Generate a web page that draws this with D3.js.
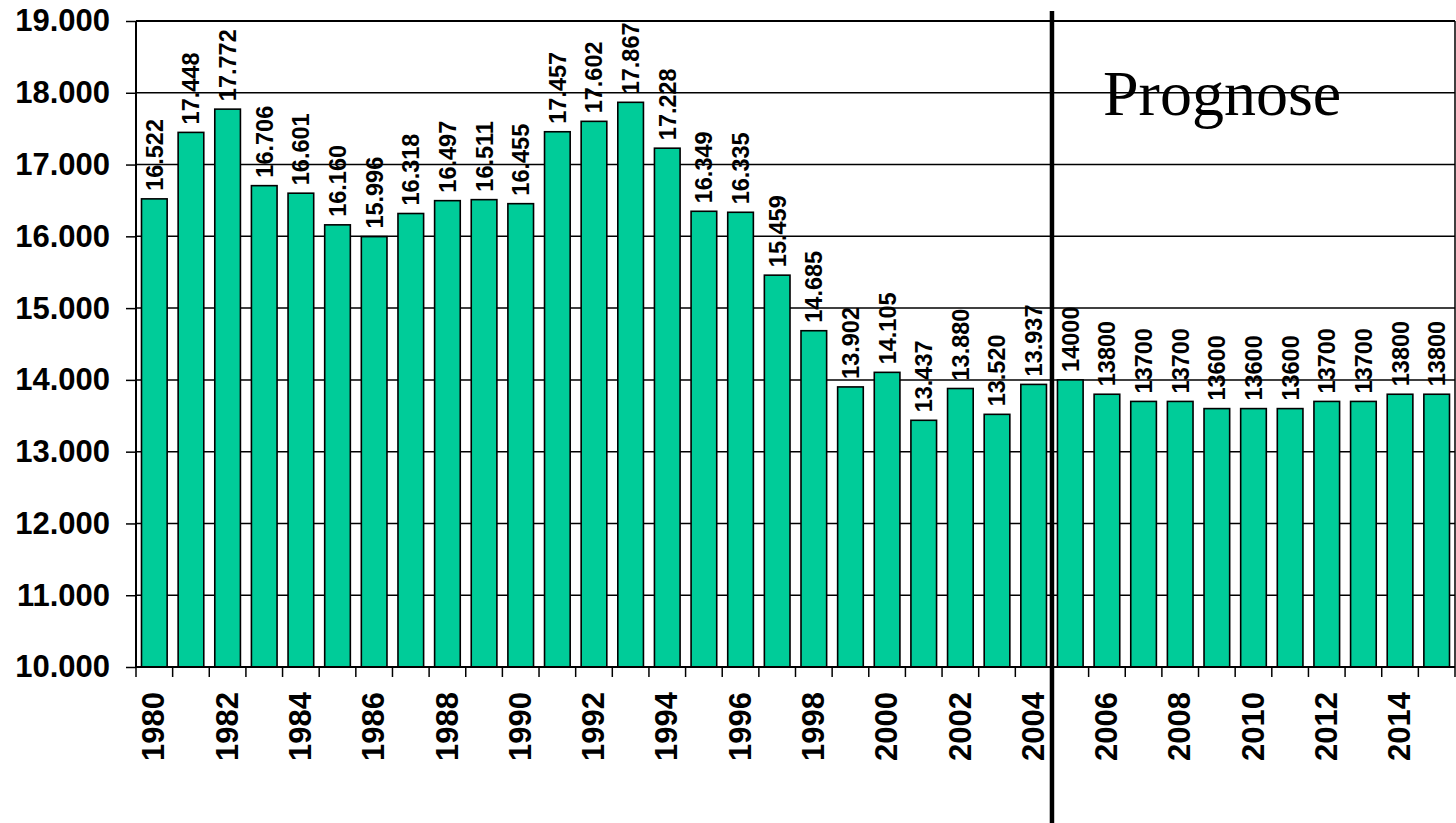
<!DOCTYPE html>
<html>
<head>
<meta charset="utf-8">
<script src="https://cdn.jsdelivr.net/npm/d3@7"></script>
<style>
  html, body { margin: 0; padding: 0; background: #fff; }
  svg { display: block; }
  text { font-family: Arial, "Liberation Sans", sans-serif; }
  text.serif { font-family: "Liberation Serif", "Times New Roman", Times, serif; }
</style>
</head>
<body>
<svg id="chart" width="1456" height="823"></svg>
<script>
// ---- Data ----
const years = [1980,1981,1982,1983,1984,1985,1986,1987,1988,1989,1990,1991,1992,1993,1994,1995,1996,1997,
               1998,1999,2000,2001,2002,2003,2004,2005,2006,2007,2008,2009,2010,2011,2012,2013,2014,2015];
const values = [16522,17448,17772,16706,16601,16160,15996,16318,16497,16511,16455,17457,17602,17867,17228,16349,16335,15459,
                14685,13902,14105,13437,13880,13520,13937,14000,13800,13700,13700,13600,13600,13600,13700,13700,13800,13800];
const forecastFrom = 2005;
const yTicks = [10000,11000,12000,13000,14000,15000,16000,17000,18000,19000];
const xTickLabels = years.filter(y => y % 2 === 0);
const annotation = "Prognose";

// ---- Layout ----
const svg = d3.select("#chart");
const plotL = 136, plotR = 1455, plotT = 21, plotB = 667;

const de = d3.formatLocale({decimal: ",", thousands: ".", grouping: [3], currency: ["", "€"]});
const fmtDE = de.format(",d");

const x = d3.scaleBand().domain(years).range([plotL, plotR]).paddingInner(0.3).paddingOuter(0.15);
const y = d3.scaleLinear().domain([10000, 19000]).range([plotB, plotT]);
const step = x.step();
const boundary = yr => x(yr) - step * x.paddingInner() / 2;

// gridlines
svg.append("g").selectAll("line").data(yTicks.slice(1)).join("line")
  .attr("x1", plotL).attr("x2", plotR)
  .attr("y1", d => y(d)).attr("y2", d => y(d))
  .attr("stroke", "#000").attr("stroke-width", d => d === 19000 ? 2 : 1.5);

// right border
svg.append("line").attr("x1", plotR).attr("x2", plotR).attr("y1", plotT).attr("y2", plotB)
  .attr("stroke", "#000").attr("stroke-width", 1.5);

// bars
const data = years.map((yr, i) => ({year: yr, value: values[i]}));
svg.append("g").selectAll("rect").data(data).join("rect")
  .attr("x", d => x(d.year))
  .attr("width", x.bandwidth())
  .attr("y", d => y(d.value))
  .attr("height", d => y(10000) - y(d.value))
  .attr("fill", "#00CC99")
  .attr("stroke", "#000").attr("stroke-width", 1.6);

// value labels
svg.append("g").selectAll("text").data(data).join("text")
  .attr("transform", d => `translate(${x(d.year) + x.bandwidth() / 2},${y(d.value) - 8}) rotate(-90)`)
  .attr("dy", "0.36em")
  .attr("text-anchor", "start")
  .attr("font-size", 23.5).attr("font-weight", "bold")
  .text(d => d.year < forecastFrom ? fmtDE(d.value) : String(d.value));

// y axis
const yAxis = d3.axisLeft(y).tickValues(yTicks).tickSize(10).tickPadding(16)
  .tickFormat(d => fmtDE(d));
const gy = svg.append("g").attr("transform", `translate(${plotL},0)`).call(yAxis);
gy.select(".domain").attr("stroke", "#000").attr("stroke-width", 2).attr("d", `M0,${plotT}V${plotB}`);
gy.selectAll(".tick line").attr("stroke", "#000").attr("stroke-width", 1.5);
gy.selectAll(".tick text").attr("font-size", 31).attr("font-weight", "bold")
  .attr("fill", "#000");

// x axis: baseline, tick marks at band boundaries
svg.append("line").attr("x1", plotL).attr("x2", plotR).attr("y1", plotB).attr("y2", plotB)
  .attr("stroke", "#000").attr("stroke-width", 2);
const bounds = years.map(boundary).concat([plotR]);
svg.append("g").selectAll("line").data(bounds).join("line")
  .attr("x1", d => d).attr("x2", d => d)
  .attr("y1", plotB).attr("y2", plotB + 10)
  .attr("stroke", "#000").attr("stroke-width", 1.5);

svg.append("g").selectAll("text").data(xTickLabels).join("text")
  .attr("transform", d => `translate(${x(d) + x.bandwidth() / 2 - 1},${plotB + 25}) rotate(-90)`)
  .attr("dy", "0.36em")
  .attr("text-anchor", "end")
  .attr("font-size", 31).attr("font-weight", "bold")
  .text(d => d);

// forecast separator
const sepX = boundary(forecastFrom);
svg.append("line").attr("x1", sepX).attr("x2", sepX).attr("y1", 11).attr("y2", 823)
  .attr("stroke", "#000").attr("stroke-width", 4.5);

// annotation
svg.append("text")
  .attr("class", "serif")
  .attr("x", 1103).attr("y", 115)
  .attr("font-size", 64)
  .text(annotation);
</script>
</body>
</html>
